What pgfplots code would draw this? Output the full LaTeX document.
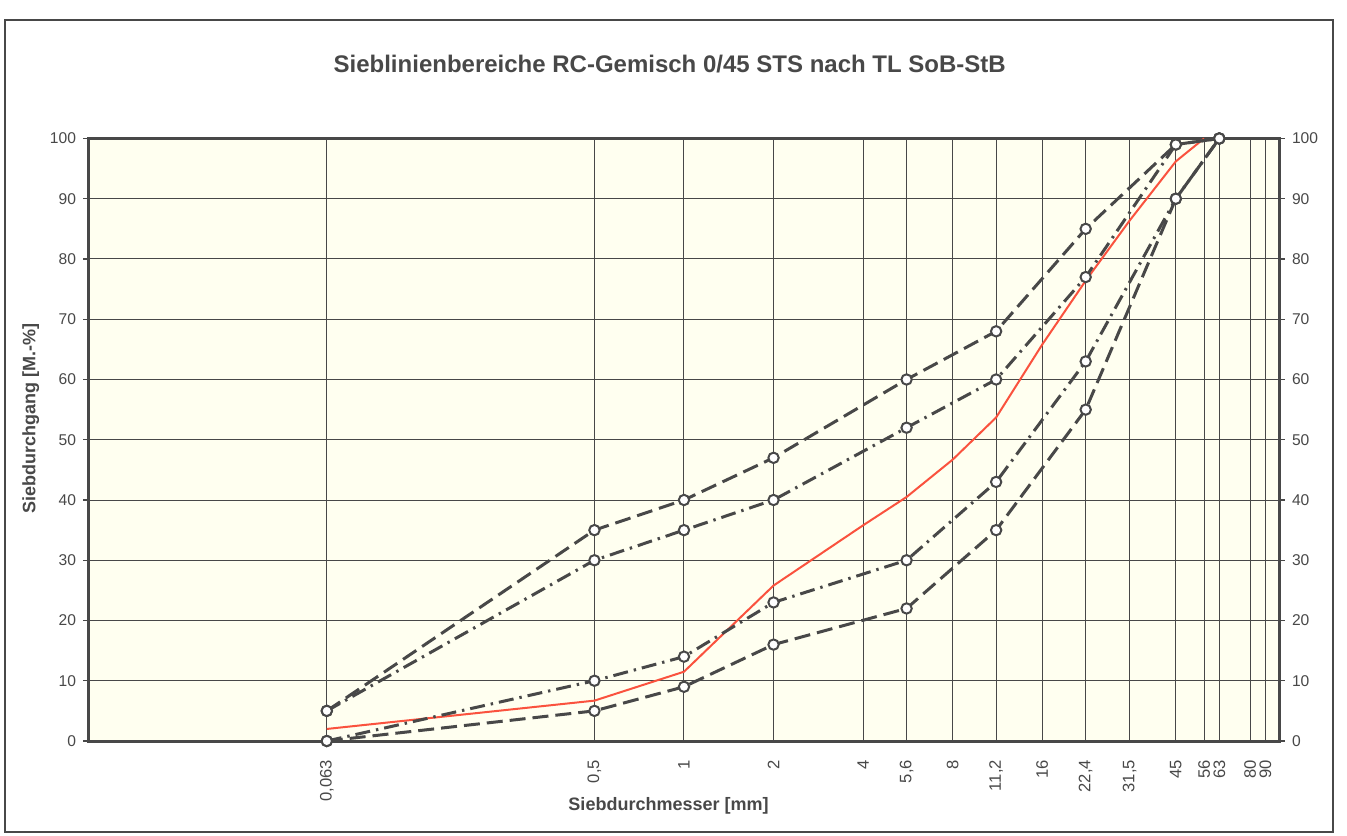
\documentclass[border=0pt]{standalone}
\usepackage{fontspec}
\setmainfont{Liberation Sans}
\usepackage{pgfplots}
\pgfplotsset{compat=1.18}
\definecolor{cream}{RGB}{255,255,240}
\definecolor{ink}{RGB}{72,72,72}
\definecolor{redl}{RGB}{250,82,62}

\pgfplotstableread{
x y
0.063 5
0.5 35
1 40
2 47
5.6 60
11.2 68
22.4 85
45 99
63 100
}\upperdashed
\pgfplotstableread{
x y
0.063 5
0.5 30
1 35
2 40
5.6 52
11.2 60
22.4 77
45 99
63 100
}\upperdashdot
\pgfplotstableread{
x y
0.063 0
0.5 10
1 14
2 23
5.6 30
11.2 43
22.4 63
45 90
63 100
}\lowerdashdot
\pgfplotstableread{
x y
0.063 0
0.5 5
1 9
2 16
5.6 22
11.2 35
22.4 55
45 90
63 100
}\lowerdashed
\pgfplotstableread{
x y
0.063 2
0.5 6.7
1 11.5
2 25.8
4 35.8
5.6 40.5
8 46.7
11.2 53.7
16 65.8
22.4 76.4
31.5 86.4
45 96.2
56 100
}\sample

\begin{document}
\begin{tikzpicture}
\path[use as bounding box] (0,0) rectangle (673.5pt,417.5pt);
\draw[ink, line width=1pt] (2.5pt,1.5pt) rectangle (666.5pt,407.5pt);
\begin{axis}[
  at={(44.5pt,47pt)}, anchor=south west,
  scale only axis, width=595pt, height=301.25pt,
  xmode=log, xmin=0.01, xmax=100, ymin=0, ymax=100,
  /pgf/number format/assume math mode=true,
  axis background/.style={fill=cream},
  xtick={0.063,0.5,1,2,4,5.6,8,11.2,16,22.4,31.5,45,56,63,80,90},
  xticklabels={0{,}063,0{,}5,1,2,4,5{,}6,8,11{,}2,16,22{,}4,31{,}5,45,56,63,80,90},
  xticklabel style={rotate=90, anchor=east, font=\fontsize{8.3}{9}\selectfont, text=ink, xshift=-3pt},
  ytick={0,10,...,100},
  yticklabel style={font=\fontsize{7.8}{9}\selectfont, text=ink},
  ytick pos=left,
  tick align=outside,
  xtick style={draw=none},
  ytick style={ink, line width=0.6pt},
  major tick length=3pt,
  grid=major,
  grid style={ink, line width=0.5pt},
  axis line style={ink, line width=1.5pt},
  title={Sieblinienbereiche RC-Gemisch 0/45 STS nach TL SoB-StB},
  title style={at={(axis description cs:0.488,1.103)}, anchor=center, font=\bfseries\fontsize{12}{14}\selectfont, text=ink},
  xlabel={Siebdurchmesser [mm]},
  xlabel style={at={(axis description cs:0.487,-0.108)}, anchor=center, font=\bfseries\fontsize{9}{11}\selectfont, text=ink},
  ylabel={Siebdurchgang [M.-\%]},
  ylabel style={at={(axis description cs:-0.049,0.536)}, anchor=center, font=\bfseries\fontsize{9}{11}\selectfont, text=ink},
  clip=false,
]
\addplot[redl, line width=1pt] table {\sample};
\addplot[ink, line width=1.5pt, dash pattern=on 8pt off 3.5pt] table {\upperdashed};
\addplot[ink, line width=1.5pt, dash pattern=on 7.5pt off 3pt on 1.2pt off 3pt] table {\upperdashdot};
\addplot[ink, line width=1.5pt, dash pattern=on 7.5pt off 3pt on 1.2pt off 3pt] table {\lowerdashdot};
\addplot[ink, line width=1.5pt, dash pattern=on 8pt off 3.5pt] table {\lowerdashed};
\addplot[only marks, mark=*, mark size=2.6pt, mark options={draw=ink, fill=white, line width=1pt}] table {\upperdashed};
\addplot[only marks, mark=*, mark size=2.6pt, mark options={draw=ink, fill=white, line width=1pt}] table {\upperdashdot};
\addplot[only marks, mark=*, mark size=2.6pt, mark options={draw=ink, fill=white, line width=1pt}] table {\lowerdashdot};
\addplot[only marks, mark=*, mark size=2.6pt, mark options={draw=ink, fill=white, line width=1pt}] table {\lowerdashed};
\end{axis}
\begin{axis}[
  at={(44.5pt,47pt)}, anchor=south west,
  scale only axis, width=595pt, height=301.25pt,
  xmode=log, xmin=0.01, xmax=100, ymin=0, ymax=100,
  /pgf/number format/assume math mode=true,
  xtick=\empty,
  ytick={0,10,...,100},
  ytick pos=right, yticklabel pos=right,
  yticklabel style={font=\fontsize{7.8}{9}\selectfont, text=ink},
  tick align=outside,
  ytick style={ink, line width=0.6pt},
  major tick length=3pt,
  axis line style={draw=none},
]
\end{axis}
\end{tikzpicture}
\end{document}
